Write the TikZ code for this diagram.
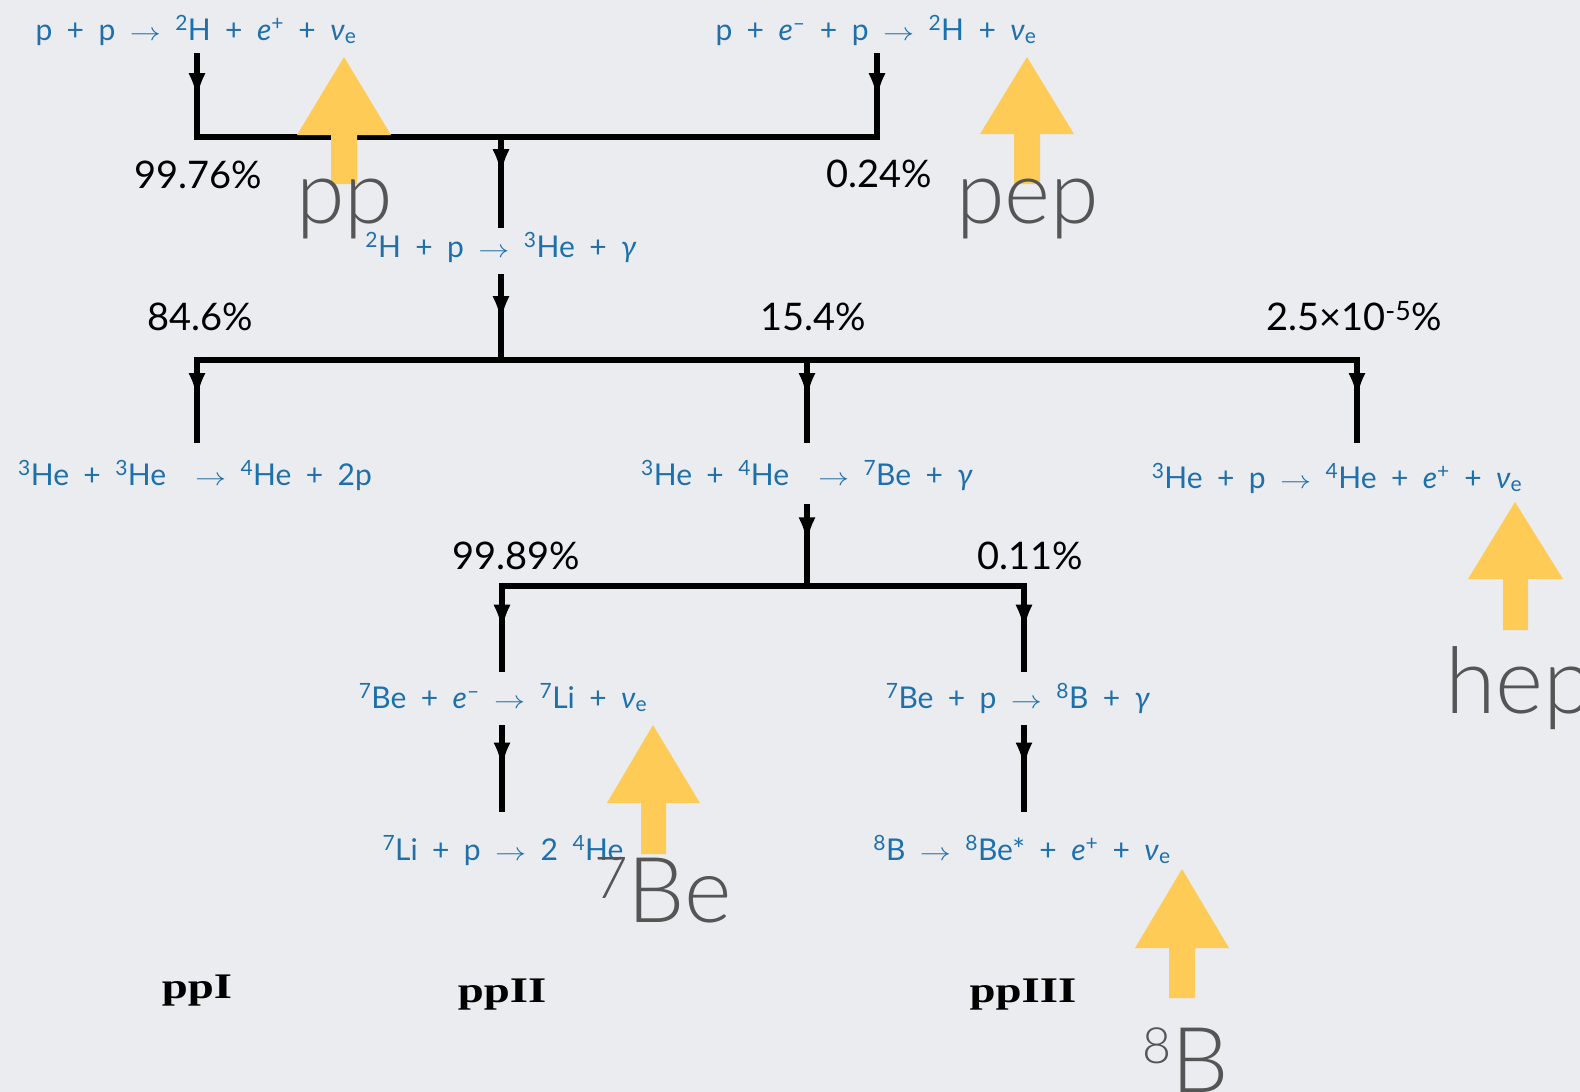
\documentclass[tikz,border=0pt]{standalone}
\usepackage{fontspec}
\setmainfont{Lato}
\newfontfamily\lightfont{Lato Light}
\newfontfamily\ppfont{Liberation Serif}
\usetikzlibrary{arrows.meta,decorations.markings}
\definecolor{bgc}{RGB}{234,236,240}
\definecolor{rxblue}{RGB}{30,112,172}
\definecolor{ylw}{RGB}{254,204,86}
\definecolor{lblgrey}{RGB}{85,85,85}
\newcommand{\sps}[1]{\textsuperscript{#1}}
\newcommand{\nuE}{\textit{ν}\textsubscript{e}}
\newcommand{\rarr}{\scalebox{1.25}[1]{$\rightarrow$}}
\newcommand{\rxfont}{\fontsize{30}{33}\selectfont\setlength{\spaceskip}{0.48em}}
\tikzset{
 rx/.style={text=rxblue, inner sep=0pt, anchor=base, font=\rxfont},
 pct/.style={text=black, inner sep=0pt, anchor=base, font=\fontsize{38}{40}\selectfont},
 ppl/.style={text=black, inner sep=0pt, anchor=base, font=\ppfont\bfseries\fontsize{36}{40}\selectfont, xscale=1.3},
 nulabel/.style={text=lblgrey, inner sep=0pt, anchor=base west, font=\lightfont\fontsize{88}{92}\selectfont},
 ln/.style={line width=6pt, black},
 bar/.style={line width=6pt, black, line cap=rect},
 midarr/.style={ln, decoration={markings, mark=at position #1 with {\arrow{Latex[length=26pt,width=17pt]}}}, postaction={decorate}},
 yarrow/.style={fill=ylw, draw=none},
}
\begin{document}
\begin{tikzpicture}[x=1pt,y=-1pt]
\fill[bgc] (0,0) rectangle (1580,1092);
\useasboundingbox (0,0) rectangle (1580,1092);

% reactions
\node[rx] (t1) at (196,40) {p + p \rarr{} \sps{2}H + \textit{e}\sps{+} + \nuE};
\node[rx] (t2) at (876,40) {p + \textit{e}\sps{–} + p \rarr{} \sps{2}H + \nuE};
\node[rx] (t3) at (501,257) {\sps{2}H + p \rarr{} \sps{3}He + \textit{γ}};
\node[rx] (t4) at (195,485) {\sps{3}He + \sps{3}He\ \ \rarr{} \sps{4}He + 2p};
\node[rx] (t5) at (807,485) {\sps{3}He + \sps{4}He\ \ \rarr{} \sps{7}Be + \textit{γ}};
\node[rx] (t6) at (1337,488) {\sps{3}He + p \rarr{} \sps{4}He + \textit{e}\sps{+} + \nuE};
\node[rx] (t7) at (503,708) {\sps{7}Be + \textit{e}\sps{–} \rarr{} \sps{7}Li + \nuE};
\node[rx] (t8) at (1018,708) {\sps{7}Be + p \rarr{} \sps{8}B + \textit{γ}};
\node[rx] (t9) at (503,860) {\sps{7}Li + p \rarr{} 2 \sps{4}He};
\node[rx] (t10) at (1022,860) {\sps{8}B \rarr{} \sps{8}Be* + \textit{e}\sps{+} + \nuE};

% branching percentages
\node[pct] (p1) at (198,188) {99.76\%};
\node[pct] (p2) at (879,187) {0.24\%};
\node[pct] (p3) at (200,330) {84.6\%};
\node[pct] (p4) at (813,330) {15.4\%};
\node[pct] (p5) at (1354,330) {2.5×10\textsuperscript{-5}\%};
\node[pct] (p6) at (516,569) {99.89\%};
\node[pct] (p7) at (1030,569) {0.11\%};

% chain names
\node[ppl] (c1) at (197,998) {ppI};
\node[ppl] (c2) at (502,1002) {ppII};
\node[ppl] (c3) at (1023,1002) {ppIII};

% connector end points
\coordinate (a1) at (197,53);
\coordinate (a2) at (877,53);
\coordinate (j1l) at (197,137);
\coordinate (j1r) at (877,137);
\coordinate (j1m) at (501,137);
\coordinate (b1) at (501,228);
\coordinate (b2) at (501,274);
\coordinate (j2m) at (501,360);
\coordinate (j2l) at (197,360);
\coordinate (j2c) at (807,360);
\coordinate (j2r) at (1357,360);
\coordinate (e1) at (197,443);
\coordinate (e2) at (807,443);
\coordinate (e3) at (1357,443);
\coordinate (f1) at (807,504);
\coordinate (j3m) at (807,586);
\coordinate (j3l) at (502,586);
\coordinate (j3r) at (1024,586);
\coordinate (g1) at (502,672);
\coordinate (g2) at (1024,672);
\coordinate (h1) at (502,725);
\coordinate (h2) at (1024,725);
\coordinate (k1) at (502,812);
\coordinate (k2) at (1024,812);

% bars
\draw[bar] (j1l) -- (j1r);
\draw[bar] (j2l) -- (j2r);
\draw[bar] (j3l) -- (j3r);
% verticals
\draw[midarr=0.55] (a1) -- (j1l);
\draw[midarr=0.55] (a2) -- (j1r);
\draw[midarr=0.42] (j1m) -- (b1);
\draw[midarr=0.56] (b2) -- (j2m);
\draw[midarr=0.47] (j2l) -- (e1);
\draw[midarr=0.47] (j2c) -- (e2);
\draw[midarr=0.47] (j2r) -- (e3);
\draw[midarr=0.48] (f1) -- (j3m);
\draw[midarr=0.52] (j3l) -- (g1);
\draw[midarr=0.52] (j3r) -- (g2);
\draw[midarr=0.5] (h1) -- (k1);
\draw[midarr=0.5] (h2) -- (k2);

% yellow neutrino arrows
\fill[yarrow] (344,57) -- (391,135) -- (357,135) -- (357,184) -- (331,184) -- (331,135) -- (297,135) -- cycle;
\fill[yarrow] (1027,57) -- (1074,134) -- (1040,134) -- (1040,184) -- (1014,184) -- (1014,134) -- (980,134) -- cycle;
\fill[yarrow] (1515,502) -- (1563,579) -- (1528,579) -- (1528,630) -- (1503,630) -- (1503,579) -- (1468,579) -- cycle;
\fill[yarrow] (653,725) -- (700,803) -- (666,803) -- (666,854) -- (641,854) -- (641,803) -- (607,803) -- cycle;
\fill[yarrow] (1182,869) -- (1229,948) -- (1195,948) -- (1195,998) -- (1169,998) -- (1169,948) -- (1135,948) -- cycle;

% neutrino labels
\node[nulabel] (lpp) at (296,223) {pp};
\node[nulabel] (lpep) at (956,223) {pep};
\node[nulabel, font=\lightfont\fontsize{92}{96}\selectfont] (lhep) at (1445,713) {hep};
\node[nulabel, font=\lightfont\fontsize{91}{96}\selectfont] (lbe) at (594,922) {{\fontsize{58}{60}\selectfont\raisebox{24pt}{7}}Be};
\node[nulabel, font=\lightfont\fontsize{91}{96}\selectfont] (lb) at (1142,1092) {{\fontsize{50}{52}\selectfont\raisebox{29pt}{8}}B};
\end{tikzpicture}
\end{document}
